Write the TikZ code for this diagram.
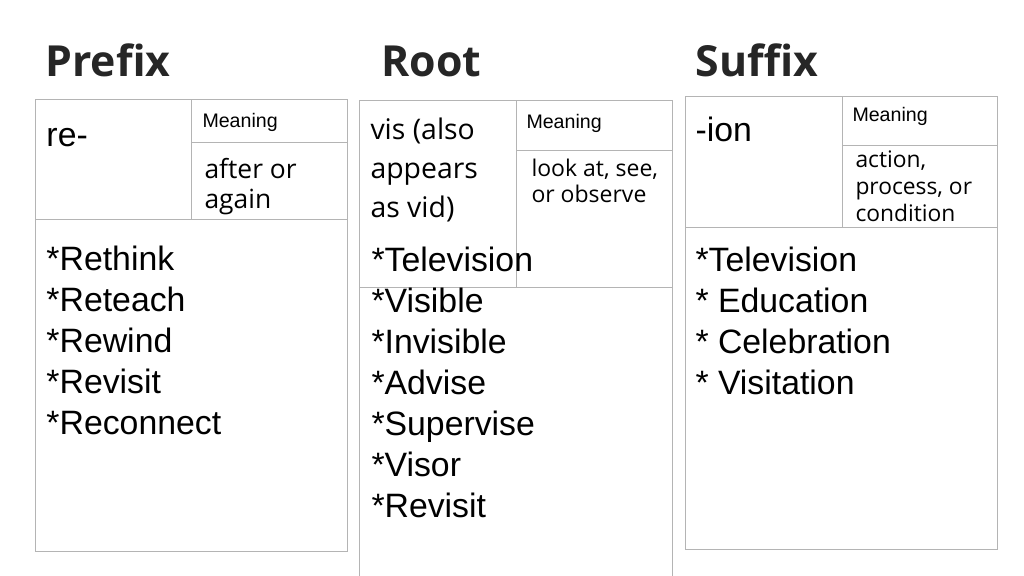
\documentclass[tikz,border=0pt]{standalone}
\usepackage{fontspec}
\setmainfont{Liberation Sans}
\newfontfamily\opensans{Open Sans}
\usepackage{tikz}
\usetikzlibrary{positioning}
\definecolor{cellline}{HTML}{B4B4B4}
\definecolor{titlegray}{HTML}{262626}

\begin{document}
\begin{tikzpicture}[x=0.5pt, y=-0.5pt, line width=0.5pt,
        title/.style={anchor=base west, inner sep=0pt, text=titlegray, font=\opensans\bfseries\fontsize{21.4}{25}\selectfont},
        word/.style={anchor=base west, inner sep=0pt, font=\fontsize{16.9}{20}\selectfont},
        meaning/.style={anchor=base west, inner sep=0pt, font=\fontsize{9.8}{12}\selectfont},
        gloss/.style={anchor=base west, inner sep=0pt, font=\opensans\fontsize{#1}{#1}\selectfont},
        cell/.style={draw=cellline}]
        \useasboundingbox (0,0) rectangle (1024,576);

        % headings
        \node[title] (prefix) at (45,77) {Prefix};
        \node[title] (root) at (381,77) {Root};
        \node[title] (suffix) at (695,77) {Suffix};

        % prefix table
        \draw[cell] (35,100) rectangle (347,552);
        \draw[cell] (191,100) -- (191,220) (191,143) -- (347,143) (35,220) -- (347,220);
        \node[word] (pre-part) at (46,147) {re-};
        \node[meaning] (pre-head) at (202,128) {Meaning};
        \foreach \l [count=\i from 0] in {after or, again}
            \node[gloss=13.2] (pre-mean-\i) at (204,179+30*\i) {\l};
        \foreach \w [count=\i from 0] in {*Rethink, *Reteach, *Rewind, *Revisit, *Reconnect}
            \node[word] (pre-\i) at (46,271+41*\i) {\w};

        % root table
        \draw[cell] (359,576) -- (359,101) -- (672,101) -- (672,576);
        \draw[cell] (516,101) -- (516,288) (516,151) -- (672,151) (359,288) -- (672,288);
        \foreach \l [count=\i from 0] in {vis (also, appears, as vid)}
            \node[gloss=14.2] (root-part-\i) at (370,140+39*\i) {\l};
        \node[meaning] (root-head) at (526,129) {Meaning};
        \foreach \l [count=\i from 0] in {{look at, see,}, or observe}
            \node[gloss=11.5] (root-mean-\i) at (531,177+26*\i) {\l};
        \foreach \w [count=\i from 0] in {*Television, *Visible, *Invisible, *Advise, *Supervise, *Visor, *Revisit}
            \node[word] (root-\i) at (371,272+41*\i) {\w};

        % suffix table
        \draw[cell] (685,97) rectangle (997,550);
        \draw[cell] (842,97) -- (842,228) (842,146) -- (997,146) (685,228) -- (997,228);
        \node[word] (suf-part) at (695,142) {-ion};
        \node[meaning] (suf-head) at (852,122) {Meaning};
        \foreach \l [count=\i from 0] in {{action,}, {process, or}, condition}
            \node[gloss=11.4] (suf-mean-\i) at (855,168+27*\i) {\l};
        \foreach \w [count=\i from 0] in {*Television, * Education, * Celebration, * Visitation}
            \node[word] (suf-\i) at (695,272+41*\i) {\w};
    \end{tikzpicture}
\end{document}
